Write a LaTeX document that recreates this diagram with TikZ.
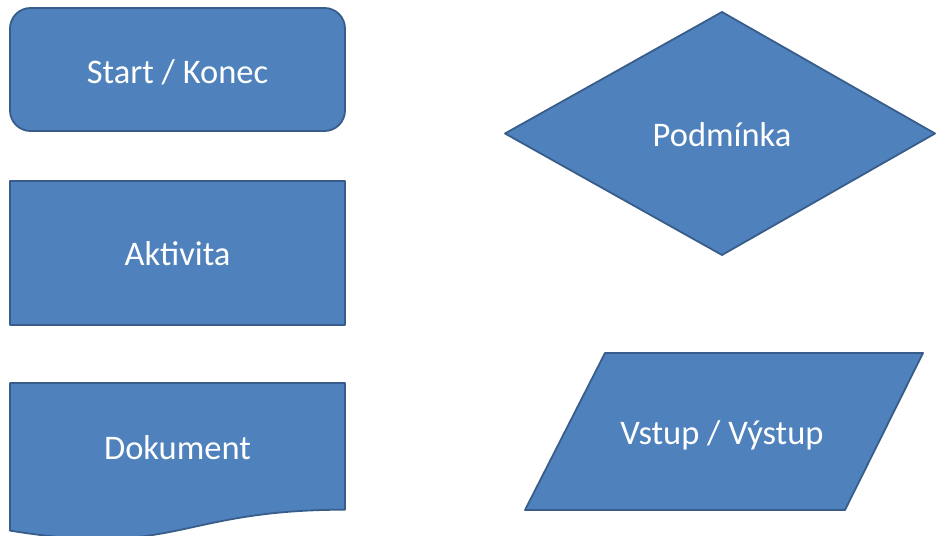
\documentclass[tikz,border=0pt]{standalone}
\usepackage{fontspec}
\setmainfont{Carlito}
\definecolor{shapefill}{HTML}{4F81BD}
\definecolor{shapeline}{HTML}{385D8A}
\begin{document}
\begin{tikzpicture}[x=1pt,y=-1pt,
  flowshape/.style={fill=shapefill,draw=shapeline,line width=1.8pt,line join=round},
  label/.style={text=white,font=\fontsize{34.5}{41}\selectfont,inner sep=0pt}]
\useasboundingbox (0,0) rectangle (936,535);

% terminator
\draw[flowshape,rounded corners=20.5pt] (10,8) rectangle (345,131);
\node[label] (start) at (177.5,72) {Start / Konec};

% process
\draw[flowshape] (10,181) rectangle (345,325);
\node[label] (akt) at (177.5,253.5) {Aktivita};

% document with wavy bottom edge
\draw[flowshape] (10,383) -- (345,383) -- (345,509.7)
  .. controls (177.5,509.7) and (177.5,558) .. (10,530.6) -- cycle;
\node[label] (dok) at (177.5,447.5) {Dokument};

% decision
\draw[flowshape] (722,12) -- (935,133.5) -- (722,255) -- (505,133.5) -- cycle;
\node[label] (cond) at (722,134.5) {Podmínka};

% input / output
\draw[flowshape] (605,353) -- (923,353) -- (845,510) -- (525,510) -- cycle;
\node[label] (io) at (722,435.5) {Vstup / Výstup};
\end{tikzpicture}
\end{document}
